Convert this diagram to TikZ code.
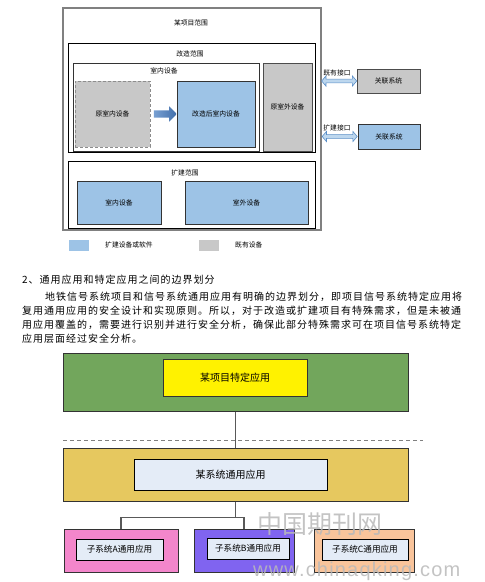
\documentclass[tikz,border=0pt]{standalone}
\usepackage{fontspec}
\setmainfont{Noto Sans CJK SC}
\newfontfamily\wmfont{Liberation Sans}
\usetikzlibrary{shapes.arrows,calc}
\definecolor{frame}{HTML}{808080}
\definecolor{oldfill}{HTML}{C8C8C8}
\definecolor{newfill}{HTML}{9DC3E6}
\definecolor{arrfill}{HTML}{BDD7EE}
\definecolor{arrdraw}{HTML}{5B8FC8}
\definecolor{blkL}{HTML}{78A0D2}
\definecolor{blkR}{HTML}{416EAA}
\definecolor{greenbox}{HTML}{72A65C}
\definecolor{goldbox}{HTML}{E6C85F}
\definecolor{paleblue}{HTML}{E4ECF7}
\definecolor{pinkbox}{HTML}{F386CB}
\definecolor{purplebox}{HTML}{8064F0}
\definecolor{orangebox}{HTML}{F9C49B}
\definecolor{edge}{HTML}{333333}
\begin{document}
\begin{tikzpicture}[x=1pt,y=-1pt,
  sz/.style 2 args={minimum width=#1 pt, minimum height=#2 pt, inner sep=0pt},
  tiny/.style={font=\fontsize{6.8}{8}\selectfont, inner sep=0pt},
  frameBox/.style={draw=black, line width=0.9pt},
  oldbox/.style={draw=black!70, fill=oldfill, line width=0.9pt, font=\fontsize{6.8}{8}\selectfont},
  newbox/.style={draw=edge, fill=newfill, line width=0.9pt, font=\fontsize{6.8}{8}\selectfont},
  ifarrow/.style={double arrow, draw=arrdraw, fill=arrfill, line width=0.6pt,
     inner sep=1.6pt, double arrow head extend=3.2pt, double arrow tip angle=100, minimum height=35pt},
  para/.style={anchor=west, inner sep=0pt, font=\fontsize{10}{12}\selectfont\addfontfeature{LetterSpace=10}},
  appbox/.style={draw=edge, line width=1pt},
  inbox/.style={draw=black, fill=paleblue, line width=1pt},
  link/.style={draw=black!65, line width=1.1pt},
  wm/.style={text=gray!55, opacity=0.85, inner sep=0pt}
]
\useasboundingbox (0,0) rectangle (485,582);

% ---------- top diagram ----------
\node[draw=frame, line width=1.6pt, sz={258}{222}] (proj) at (192,119) {};
\node[tiny] (projT) at (191,23) {某项目范围};
\node[frameBox, sz={247}{109}] (reno) at (191.5,97.5) {};
\node[tiny] (renoT) at (190,54) {改造范围};
\node[draw=black!80, line width=0.9pt, sz={186}{88}] (indoor) at (166,107) {};
\node[tiny] (indoorT) at (164,71) {室内设备};
\node[oldbox, draw=black!45, dash pattern=on 3pt off 2pt, sz={75}{66}] (oldin) at (112.5,114) {原室内设备};
\node[newbox, sz={78}{66}] (newin) at (216,114) {改造后室内设备};
\node[single arrow, draw=none, left color=blkL, right color=blkR,
      inner sep=3.5pt, single arrow head extend=4pt, single arrow tip angle=90, minimum height=23pt]
      (blk) at ($(oldin.east)!0.5!(newin.west)$) {};
\node[oldbox, sz={49}{88}] (oldout) at (287.5,107) {原室外设备};
\node[frameBox, sz={247}{67}] (ext) at (191.5,194.5) {};
\node[tiny] (extT) at (185,173) {扩建范围};
\node[newbox, sz={84}{43}] (in2) at (119,202.5) {室内设备};
\node[newbox, sz={123}{43}] (out2) at (246.5,202.5) {室外设备};

% legend
\node[fill=newfill, sz={20}{11}] (lgA) at (79,245) {};
\node[tiny, anchor=west] (lgAT) at (105,245) {扩建设备或软件};
\node[fill=oldfill, sz={20}{11}] (lgB) at (209,245) {};
\node[tiny, anchor=west] (lgBT) at (235,245) {既有设备};

% external systems
\node[oldbox, sz={63}{24}] (sys1) at (388.5,81) {关联系统};
\node[newbox, sz={62}{25}] (sys2) at (389,136.5) {关联系统};
\coordinate (p1) at (proj.east |- sys1.west);
\coordinate (p2) at (proj.east |- sys2.west);
\node[ifarrow] (if1) at ($(p1)!0.5!(sys1.west)$) {};
\node[ifarrow] (if2) at ($(p2)!0.5!(sys2.west)$) {};
\node[tiny] (if1T) at (337,73) {既有接口};
\node[tiny] (if2T) at (337,128) {扩建接口};

% ---------- text ----------
\node[para] (h) at (22,280) {2、通用应用和特定应用之间的边界划分};
\node[para] (l1) at (45,297) {地铁信号系统项目和信号系统通用应用有明确的边界划分，即项目信号系统特定应用将};
\node[para] (l2) at (22,311) {复用通用应用的安全设计和实现原则。所以，对于改造或扩建项目有特殊需求，但是未被通};
\node[para] (l3) at (22,325) {用应用覆盖的，需要进行识别并进行安全分析，确保此部分特殊需求可在项目信号系统特定};
\node[para] (l4) at (22,339) {应用层面经过安全分析。};

% ---------- bottom diagram ----------
\node[appbox, fill=greenbox, sz={345}{58}] (spec) at (235.5,382) {};
\node[draw=edge, fill=yellow, line width=1pt, sz={144}{37}, font=\fontsize{10}{12}\selectfont] (specIn) at (235,377.5) {某项目特定应用};
\node[appbox, fill=goldbox, sz={345}{53}] (gen) at (235.5,474.5) {};
\node[inbox, sz={193}{31}, font=\fontsize{10}{12}\selectfont] (genIn) at (230.5,474.5) {某系统通用应用};
\draw[black!50, line width=0.9pt, dash pattern=on 4pt off 3pt] (63,440) coordinate (dL) -- (423,440) coordinate (dR);
\draw[link] (spec.south) -- (gen.north);

\node[appbox, fill=pinkbox, sz={114}{43}] (subA) at (121,550.5) {};
\node[inbox, sz={87}{21}, font=\fontsize{8.6}{10}\selectfont] (subAIn) at (119.5,549.5) {子系统A通用应用};
\node[appbox, fill=purplebox, sz={100}{43}] (subB) at (244,550.5) {};
\node[inbox, sz={82}{21}, font=\fontsize{8.6}{10}\selectfont] (subBIn) at (248,548.5) {子系统B通用应用};
\node[appbox, fill=orangebox, sz={100}{43}] (subC) at (364,550.5) {};
\node[inbox, sz={86}{21}, font=\fontsize{8.6}{10}\selectfont] (subCIn) at (365,549.5) {子系统C通用应用};

\draw[link] (gen.south) -- ++(0,16) coordinate (j);
\draw[link] (subA.north) |- (j) -| (subB.north);

% ---------- watermark ----------
\node[wm, font=\fontsize{25}{27}\selectfont] (wm1) at (320,524) {中国期刊网};
\node[wm, anchor=west, font=\wmfont\fontsize{20}{22}\selectfont\addfontfeature{LetterSpace=6}] (wm2) at (253,571) {www.chinaqking.com};
\end{tikzpicture}
\end{document}
